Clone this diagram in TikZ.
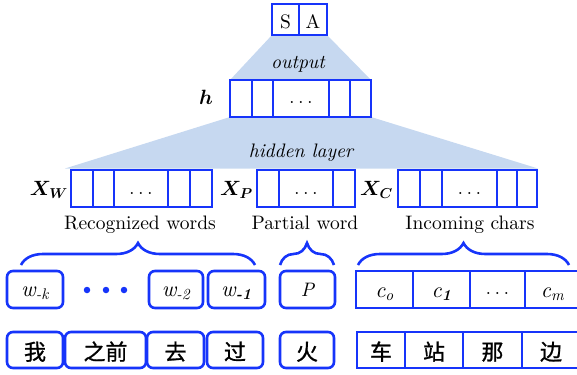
\documentclass[tikz,border=0pt]{standalone}
\usepackage{fontspec}
\usepackage{bm}
\setmainfont{lmroman10-regular.otf}[ItalicFont=lmroman10-italic.otf, BoldFont=lmroman10-bold.otf, BoldItalicFont=lmroman10-bolditalic.otf]
\newfontfamily\cjk{Noto Sans CJK SC}[FakeBold=1.0]
\usetikzlibrary{backgrounds,decorations.pathreplacing}
\definecolor{lineblue}{RGB}{22,52,250}
\definecolor{fillblue}{RGB}{198,216,240}
\begin{document}
\begin{tikzpicture}[x=1bp,y=-1bp,
  cell/.style={draw=lineblue, line width=2.6bp, inner sep=0pt, outer sep=0pt, minimum height=37bp},
  rcell/.style={cell, rounded corners=6bp},
  lab/.style={inner sep=0pt, font=\fontsize{19.5bp}{23bp}\selectfont},
  itlab/.style={lab, font=\fontsize{19.5bp}{23bp}\selectfont\itshape},
  wlab/.style={lab, font=\fontsize{22bp}{26bp}\selectfont\itshape},
  biglab/.style={inner sep=0pt, font=\fontsize{20bp}{24bp}\selectfont},
  cjklab/.style={inner sep=0pt, font=\fontsize{22bp}{26bp}\selectfont\cjk},
  bracestyle/.style={draw=lineblue, line width=2.6bp, decorate, decoration={brace, amplitude=22bp}},
  bigdot/.style={circle, fill=lineblue, inner sep=0pt, minimum size=6.5bp}
]
\useasboundingbox (0,0) rectangle (577,374);

% SA
\node[cell, minimum height=31bp, minimum width=27bp] (S) at (285.5,19.5) {};
\node[cell, minimum height=31bp, minimum width=28bp] (A) at (313,19.5) {};
\node[lab, anchor=base] (tS) at (285.5,28) {S};
\node[lab, anchor=base] (tA) at (313,28) {A};

% h layer
\node[cell, minimum width=22bp] (h1) at (241,98.5) {};
\node[cell, minimum width=21bp] (h2) at (262.5,98.5) {};
\node[cell, minimum width=56bp] (h3) at (301,98.5) {};
\node[cell, minimum width=21bp] (h4) at (339.5,98.5) {};
\node[cell, minimum width=21bp] (h5) at (360.5,98.5) {};
\node[lab, anchor=base] (th3) at (301,103) {$\ldots$};
\node[biglab, anchor=base] (hlab) at (206,104) {$\bm{h}$};
\node[itlab, anchor=base] (outlab) at (298,68) {output};

% X layers
\node[cell, minimum width=22bp] (w1) at (82,188.5) {};
\node[cell, minimum width=21bp] (w2) at (103.5,188.5) {};
\node[cell, minimum width=54bp] (w3) at (141,188.5) {};
\node[cell, minimum width=22bp] (w4) at (179,188.5) {};
\node[cell, minimum width=22bp] (w5) at (201,188.5) {};
\node[lab, anchor=base] (tw3) at (141,194) {$\ldots$};

\node[cell, minimum width=22bp] (p1) at (268,188.5) {};
\node[cell, minimum width=54bp] (p2) at (306,188.5) {};
\node[cell, minimum width=22bp] (p3) at (344,188.5) {};
\node[lab, anchor=base] (tp2) at (306,194) {$\ldots$};

\node[cell, minimum width=22bp] (c1) at (409,188.5) {};
\node[cell, minimum width=22bp] (c2) at (431,188.5) {};
\node[cell, minimum width=55bp] (c3) at (469.5,188.5) {};
\node[cell, minimum width=20bp] (c4) at (507,188.5) {};
\node[cell, minimum width=20bp] (c5) at (527,188.5) {};
\node[lab, anchor=base] (tc3) at (469.5,194) {$\ldots$};

\node[biglab, anchor=base east] (xw) at (68,195) {$\bm{X_W}$};
\node[biglab, anchor=base east] (xp) at (253,195) {$\bm{X_P}$};
\node[biglab, anchor=base east] (xc) at (393,195) {$\bm{X_C}$};

\node[itlab, anchor=base] (hidlab) at (301,157) {hidden layer};
\node[lab, anchor=base] (rw) at (140,229) {Recognized words};
\node[lab, anchor=base] (pw) at (305,229) {Partial word};
\node[lab, anchor=base] (ic) at (470,229) {Incoming chars};

% braces
\coordinate (b1l) at (21,265);
\coordinate (b1r) at (255,265);
\coordinate (b2l) at (280,265);
\coordinate (b2r) at (334,265);
\coordinate (b3l) at (358,265);
\coordinate (b3r) at (569,265);
\draw[bracestyle] (b1l) -- (b1r);
\draw[bracestyle] (b2l) -- (b2r);
\draw[bracestyle] (b3l) -- (b3r);

% word row
\node[rcell, minimum width=56bp] (wk) at (35,289.5) {};
\node[bigdot] (d1) at (87,290) {};
\node[bigdot] (d2) at (106,290) {};
\node[bigdot] (d3) at (124,290) {};
\node[rcell, minimum width=54bp] (wm2) at (176,289.5) {};
\node[rcell, minimum width=57bp] (wm1) at (236.5,289.5) {};
\node[rcell, minimum width=55bp] (pp) at (307.5,289.5) {};
\node[cell, minimum width=57bp] (co) at (384.5,289.5) {};
\node[cell, minimum width=57bp] (cone) at (441.5,289.5) {};
\node[cell, minimum width=55bp] (cd) at (497.5,289.5) {};
\node[cell, minimum width=55bp] (cm) at (552.5,289.5) {};
\node[wlab, anchor=base] (twk) at (35,296) {w\textsubscript{-k}};
\node[wlab, anchor=base] (twm2) at (176,296) {w\textsubscript{-2}};
\node[wlab, anchor=base] (twm1) at (236.5,296) {w\textsubscript{\bfseries -1}};
\node[itlab, anchor=base] (tpp) at (307.5,296) {P};
\node[wlab, anchor=base] (tco) at (384.5,297) {c\textsubscript{o}};
\node[wlab, anchor=base] (tcone) at (441.5,297) {c\textsubscript{\bfseries 1}};
\node[lab, anchor=base] (tcd) at (497.5,294) {$\ldots$};
\node[wlab, anchor=base] (tcm) at (552.5,297) {c\textsubscript{m}};

% char row
\node[rcell, minimum height=36bp, minimum width=56bp] (z1) at (35,350) {};
\node[rcell, minimum height=36bp, minimum width=81bp] (z2) at (105.5,350) {};
\node[rcell, minimum height=36bp, minimum width=57bp] (z3) at (175.5,350) {};
\node[rcell, minimum height=36bp, minimum width=56bp] (z4) at (235,350) {};
\node[rcell, minimum height=36bp, minimum width=54bp] (z5) at (307,350) {};
\node[cell, minimum height=36bp, minimum width=48bp] (z6) at (381,350) {};
\node[cell, minimum height=36bp, minimum width=58bp] (z7) at (434,350) {};
\node[cell, minimum height=36bp, minimum width=59bp] (z8) at (492.5,350) {};
\node[cell, minimum height=36bp, minimum width=58bp] (z9) at (551,350) {};
\node[cjklab, anchor=base] (tz1) at (35,360) {我};
\node[cjklab, anchor=base] (tz2) at (105.5,360) {之前};
\node[cjklab, anchor=base] (tz3) at (175.5,360) {去};
\node[cjklab, anchor=base] (tz4) at (235,360) {过};
\node[cjklab, anchor=base] (tz5) at (307,360) {火};
\node[cjklab, anchor=base] (tz6) at (381,360) {车};
\node[cjklab, anchor=base] (tz7) at (434,360) {站};
\node[cjklab, anchor=base] (tz8) at (492.5,360) {那};
\node[cjklab, anchor=base] (tz9) at (551,360) {边};

% trapezoids
\coordinate (hidl) at (65,168.5);
\coordinate (hidr) at (538,168.5);
\begin{scope}[on background layer]
\fill[fillblue] (S.south west) -- (A.south east) -- (h5.north east) -- (h1.north west) -- cycle;
\fill[fillblue] (h1.south west) -- (h5.south east) -- (hidr) -- (hidl) -- cycle;
\end{scope}
\end{tikzpicture}
\end{document}
